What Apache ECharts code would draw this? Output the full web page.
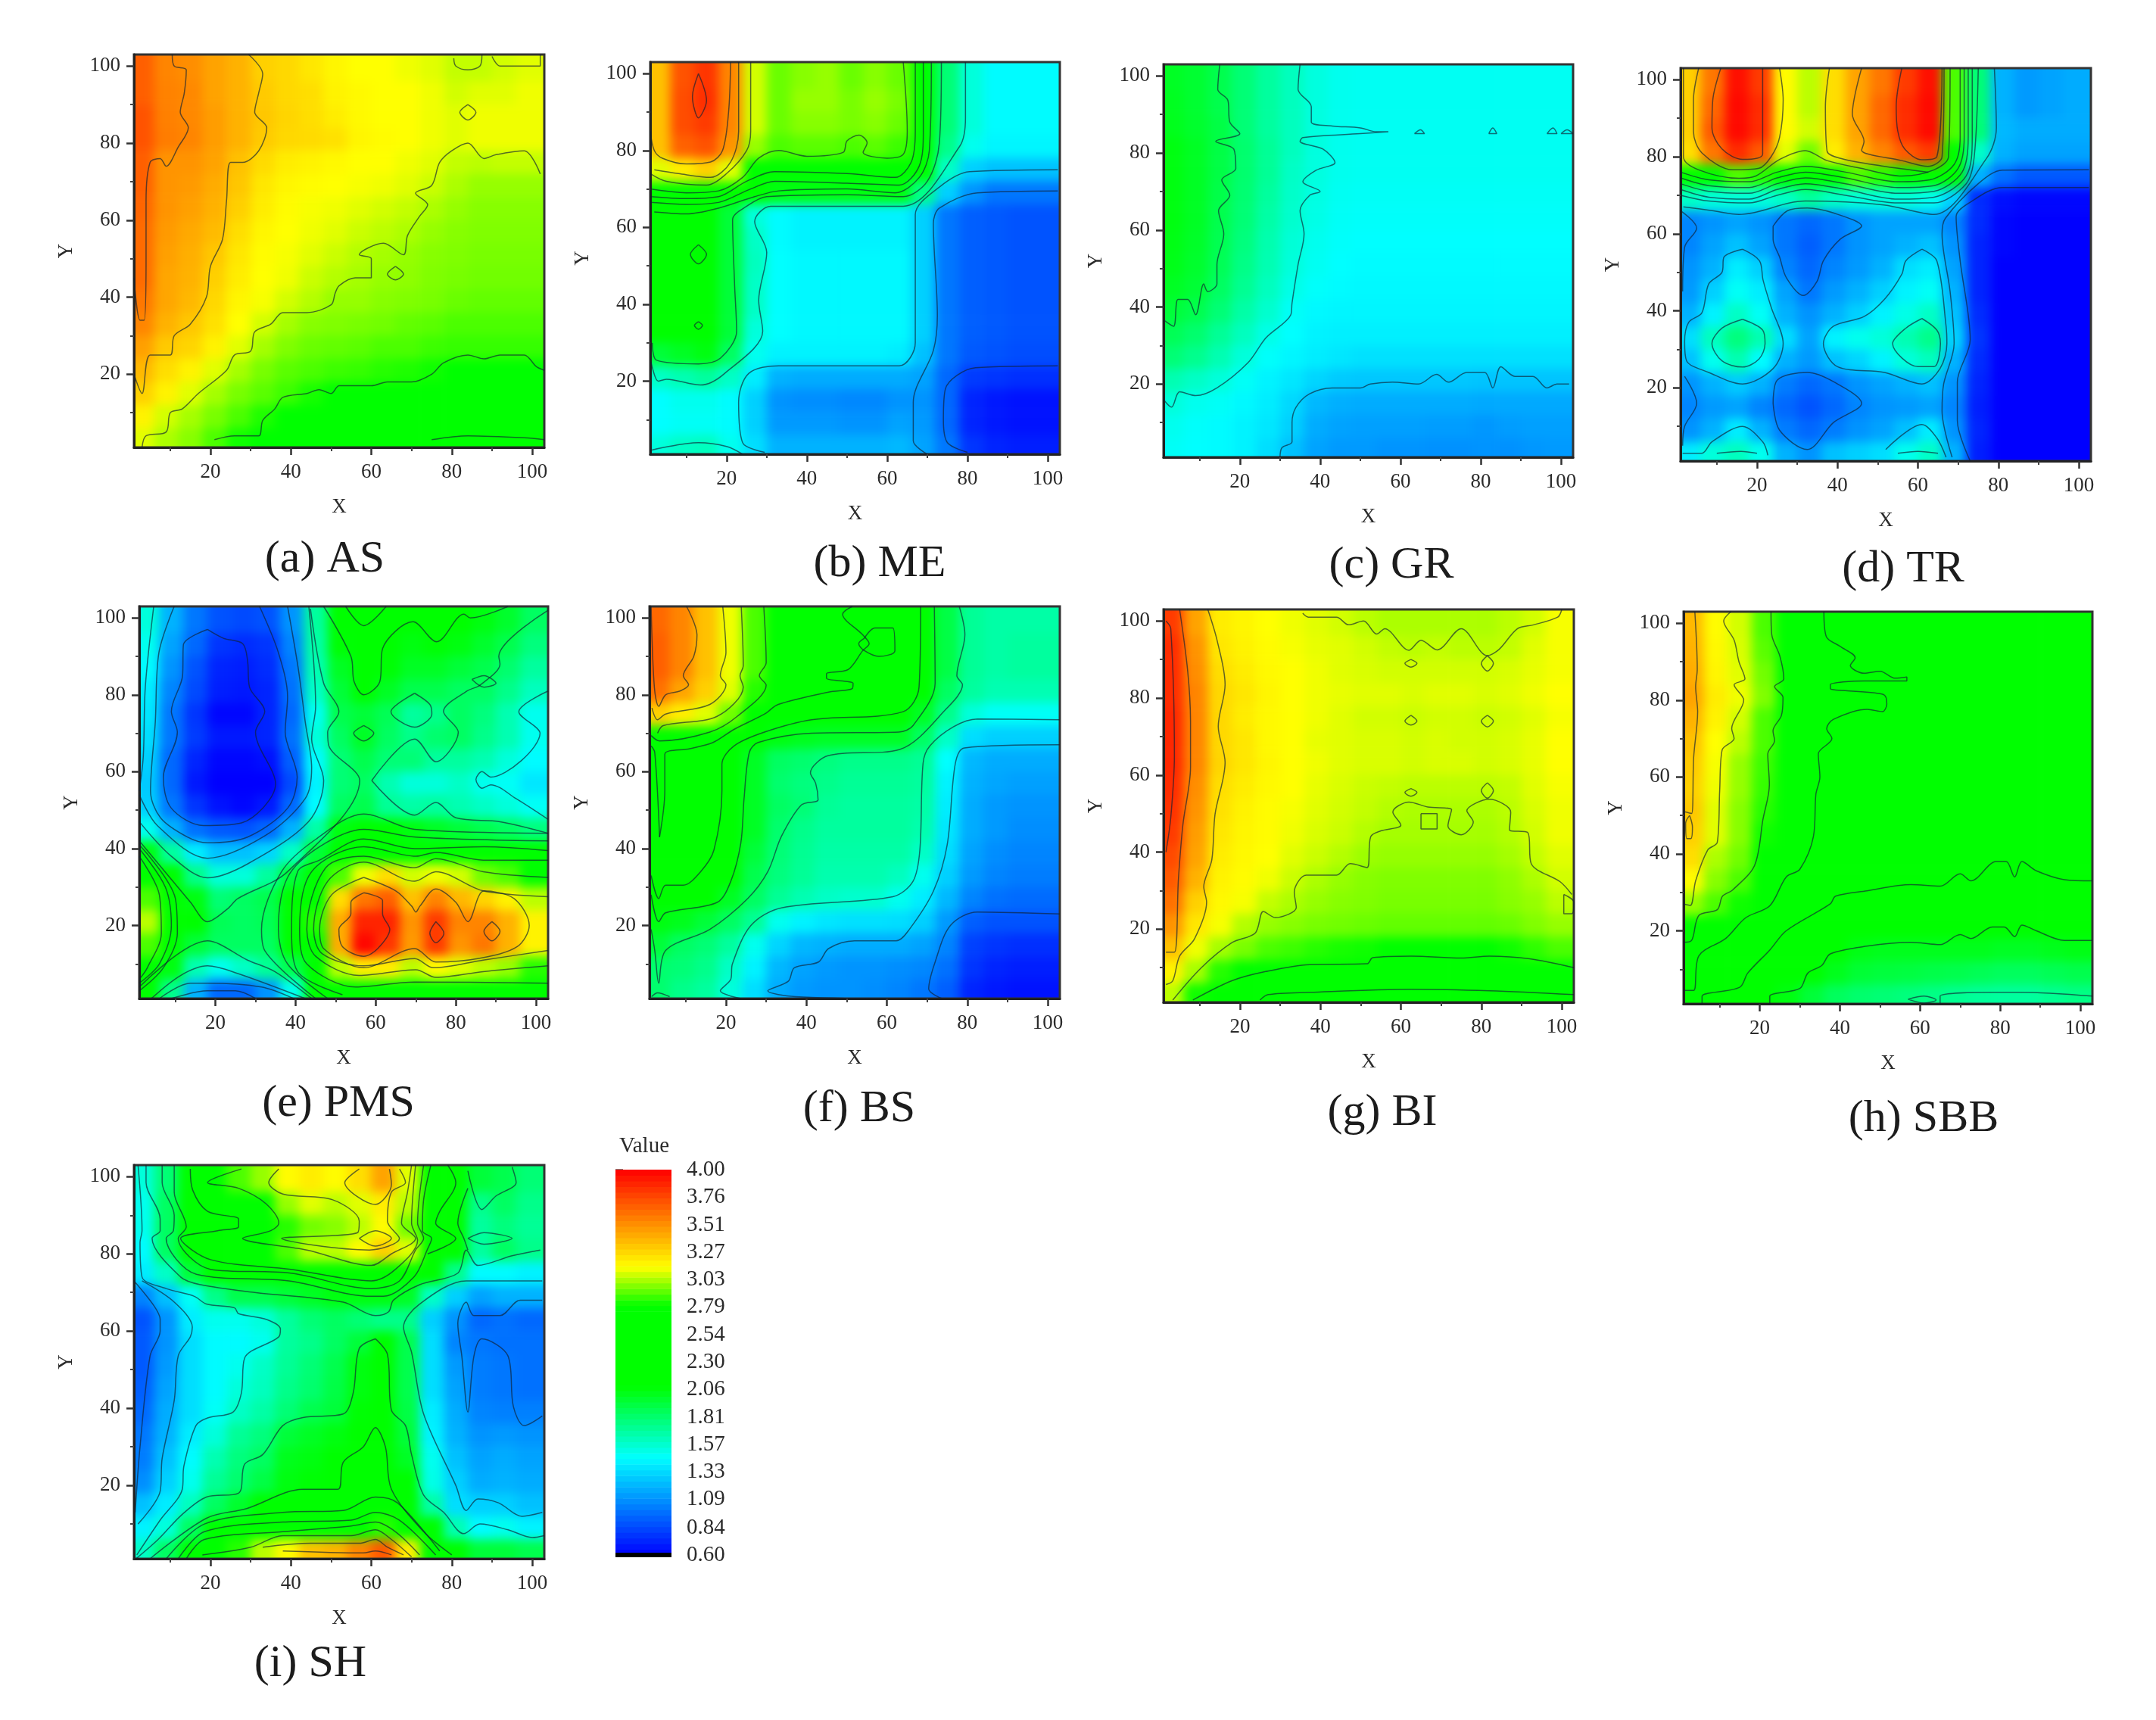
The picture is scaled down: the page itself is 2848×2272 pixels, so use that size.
<!DOCTYPE html>
<html><head><meta charset="utf-8">
<style>html,body{margin:0;padding:0;background:#fff}#c{width:2848px;height:2272px}</style>
<script src="https://cdn.jsdelivr.net/npm/echarts@6/dist/echarts.min.js"></script>
</head><body><div id="c"></div>
<script>
// cell centres shared by all panels (rows run top to bottom)
const gridXs=[3,9,15,21,27,33,39,45,51,57,63,69,75,81,87,93,99];
const gridYs=[99,93,87,81,75,69,63,57,51,45,39,33,27,21,15,9,3];
const majorTicks=[20,40,60,80,100];
const minorTicks=[10,30,50,70,90];
const legendTicks=[0.6,0.84,1.09,1.33,1.57,1.81,2.06,2.30,2.54,2.79,3.03,3.27,3.51,3.76,4.0];
const legendLevels=[0.625,0.675,0.725,0.775,0.825,0.875,0.925,0.975,1.025,1.075,1.125,1.175,1.225,1.275,1.325,1.375,1.425,1.475,1.525,1.575,1.625,1.675,1.725,1.775,1.825,1.875,1.925,1.975,2.025,2.075,2.125,2.175,2.225,2.275,2.325,2.375,2.425,2.475,2.525,2.575,2.625,2.675,2.725,2.775,2.825,2.875,2.925,2.975,3.025,3.075,3.125,3.175,3.225,3.275,3.325,3.375,3.425,3.475,3.525,3.575,3.625,3.675,3.725,3.775,3.825,3.875,3.925,3.975];
const colorStopValues=[0.6,1.46,2.09,2.8,3.14,4.0];
const colorStopRgb=[[0,0,255],[0,255,255],[0,255,0],[0,255,0],[255,255,0],[255,0,0]];
const captions=['(a) AS','(b) ME','(c) GR','(d) TR','(e) PMS','(f) BS','(g) BI','(h) SBB','(i) SH'];

const AS=[
[3.68,3.55,3.52,3.45,3.4,3.3,3.27,3.22,3.17,3.14,3.14,3.12,3.1,3.06,3.06,3.08,3.1],
[3.68,3.56,3.54,3.45,3.4,3.32,3.27,3.25,3.18,3.16,3.14,3.14,3.12,3.08,3.1,3.1,3.12],
[3.72,3.57,3.54,3.47,3.4,3.33,3.28,3.25,3.2,3.16,3.14,3.14,3.12,3.1,3.12,3.12,3.12],
[3.72,3.58,3.55,3.47,3.4,3.32,3.27,3.26,3.24,3.17,3.15,3.14,3.12,3.1,3.12,3.12,3.12],
[3.68,3.5,3.5,3.45,3.35,3.26,3.2,3.18,3.16,3.14,3.14,3.12,3.1,3.06,3.05,3.06,3.06],
[3.68,3.5,3.48,3.42,3.33,3.22,3.17,3.15,3.14,3.13,3.12,3.1,3.07,3.03,3.0,3.0,3.0],
[3.66,3.5,3.46,3.4,3.3,3.2,3.15,3.13,3.12,3.1,3.08,3.06,3.03,3.0,2.98,2.98,2.98],
[3.64,3.48,3.43,3.37,3.25,3.17,3.14,3.12,3.1,3.07,3.05,3.03,3.0,2.98,2.97,2.97,2.97],
[3.64,3.46,3.41,3.33,3.22,3.15,3.13,3.1,3.07,3.04,3.02,3.0,2.98,2.97,2.96,2.96,2.96],
[3.64,3.44,3.4,3.3,3.2,3.14,3.12,3.07,3.04,3.02,3.0,2.99,2.97,2.96,2.95,2.95,2.95],
[3.6,3.44,3.38,3.27,3.17,3.13,3.08,3.04,3.0,3.0,2.98,2.97,2.96,2.94,2.93,2.93,2.93],
[3.55,3.4,3.33,3.24,3.14,3.08,3.02,2.98,2.97,2.96,2.95,2.93,2.92,2.9,2.9,2.9,2.9],
[3.46,3.32,3.28,3.18,3.1,3.02,2.97,2.94,2.93,2.92,2.9,2.9,2.88,2.87,2.87,2.87,2.87],
[3.38,3.25,3.18,3.1,3.02,2.96,2.92,2.9,2.88,2.87,2.85,2.84,2.82,2.78,2.76,2.75,2.76],
[3.3,3.18,3.1,3.02,2.96,2.92,2.88,2.83,2.8,2.78,2.76,2.74,2.7,2.65,2.62,2.6,2.6],
[3.18,3.08,3.02,2.96,2.9,2.84,2.76,2.7,2.65,2.62,2.6,2.56,2.52,2.5,2.5,2.5,2.5],
[3.1,3.03,2.98,2.9,2.82,2.76,2.66,2.6,2.56,2.52,2.5,2.48,2.42,2.4,2.4,2.4,2.4]];
const ME=[
[3.35,3.72,3.82,3.55,3.08,2.94,2.98,3.0,2.94,2.98,2.94,2.3,1.8,1.55,1.45,1.45,1.45],
[3.35,3.74,3.84,3.55,3.08,2.94,3.0,3.0,2.96,3.0,2.96,2.3,1.8,1.55,1.45,1.45,1.45],
[3.35,3.74,3.8,3.55,3.08,2.94,2.98,2.98,2.96,2.98,2.94,2.3,1.8,1.55,1.45,1.45,1.45],
[3.35,3.67,3.72,3.5,3.0,2.9,2.92,2.92,2.9,2.92,2.88,2.25,1.75,1.5,1.43,1.43,1.43],
[3.1,3.2,3.3,3.1,2.65,2.6,2.5,2.5,2.5,2.5,2.5,2.15,1.6,1.3,1.25,1.25,1.25],
[2.3,2.25,2.25,2.2,2.1,2.05,2.05,2.05,2.05,2.05,2.05,1.75,1.3,1.1,1.0,1.0,1.0],
[2.12,2.15,2.15,1.95,1.55,1.45,1.42,1.42,1.42,1.42,1.42,1.3,1.0,0.92,0.9,0.88,0.88],
[2.12,2.15,2.18,1.95,1.6,1.45,1.42,1.42,1.42,1.42,1.42,1.3,1.0,0.92,0.9,0.88,0.88],
[2.12,2.15,2.2,1.95,1.62,1.46,1.44,1.44,1.44,1.44,1.44,1.3,1.0,0.92,0.9,0.88,0.88],
[2.12,2.15,2.15,1.95,1.6,1.46,1.44,1.44,1.44,1.44,1.44,1.3,1.0,0.92,0.9,0.88,0.88],
[2.12,2.15,2.15,1.95,1.6,1.46,1.44,1.44,1.44,1.44,1.44,1.3,1.0,0.92,0.9,0.88,0.88],
[2.1,2.13,2.15,1.95,1.55,1.46,1.44,1.44,1.44,1.44,1.44,1.3,1.0,0.92,0.9,0.88,0.88],
[1.95,2.0,2.05,1.85,1.5,1.42,1.42,1.42,1.42,1.42,1.4,1.25,1.0,0.9,0.88,0.86,0.86],
[1.6,1.65,1.7,1.6,1.4,1.2,1.18,1.18,1.18,1.18,1.18,1.15,0.95,0.8,0.78,0.76,0.76],
[1.46,1.5,1.5,1.45,1.3,1.1,1.08,1.08,1.06,1.06,1.1,1.1,0.95,0.72,0.68,0.66,0.66],
[1.46,1.48,1.48,1.45,1.3,1.12,1.12,1.12,1.1,1.1,1.15,1.12,0.95,0.72,0.68,0.66,0.66],
[1.55,1.6,1.62,1.5,1.35,1.2,1.2,1.2,1.2,1.2,1.22,1.15,1.0,0.78,0.72,0.7,0.7]];
const GR=[
[2.0,1.97,1.9,1.8,1.7,1.62,1.54,1.5,1.49,1.49,1.49,1.49,1.49,1.49,1.49,1.49,1.49],
[2.01,1.97,1.9,1.8,1.7,1.62,1.54,1.5,1.49,1.49,1.49,1.49,1.49,1.49,1.49,1.49,1.49],
[2.02,1.98,1.92,1.8,1.7,1.62,1.54,1.5,1.49,1.49,1.49,1.49,1.49,1.49,1.49,1.49,1.49],
[2.05,2.0,1.92,1.82,1.72,1.62,1.54,1.5,1.49,1.49,1.49,1.49,1.49,1.49,1.49,1.49,1.49],
[2.05,2.0,1.92,1.82,1.72,1.6,1.54,1.5,1.49,1.49,1.49,1.49,1.49,1.49,1.49,1.49,1.49],
[2.05,2.0,1.91,1.81,1.7,1.59,1.53,1.49,1.48,1.48,1.48,1.48,1.48,1.48,1.48,1.48,1.48],
[2.05,2.0,1.9,1.8,1.68,1.58,1.52,1.48,1.47,1.47,1.47,1.47,1.47,1.47,1.47,1.47,1.47],
[2.04,1.99,1.89,1.78,1.66,1.56,1.5,1.47,1.46,1.46,1.46,1.46,1.46,1.46,1.46,1.46,1.46],
[2.03,1.98,1.88,1.76,1.65,1.55,1.49,1.46,1.45,1.45,1.45,1.45,1.45,1.45,1.45,1.45,1.45],
[2.0,1.96,1.85,1.73,1.62,1.52,1.47,1.45,1.44,1.44,1.44,1.44,1.44,1.44,1.44,1.44,1.44],
[1.95,1.9,1.8,1.68,1.58,1.48,1.44,1.43,1.43,1.43,1.43,1.43,1.43,1.43,1.43,1.43,1.43],
[1.88,1.82,1.72,1.62,1.52,1.46,1.42,1.41,1.41,1.41,1.41,1.41,1.41,1.41,1.41,1.41,1.41],
[1.8,1.74,1.65,1.55,1.47,1.43,1.4,1.38,1.36,1.36,1.36,1.36,1.36,1.36,1.36,1.36,1.36],
[1.65,1.6,1.55,1.48,1.42,1.38,1.32,1.28,1.27,1.27,1.27,1.27,1.27,1.26,1.26,1.26,1.26],
[1.55,1.5,1.48,1.44,1.4,1.33,1.22,1.19,1.18,1.18,1.18,1.18,1.18,1.17,1.17,1.17,1.17],
[1.5,1.47,1.45,1.42,1.38,1.3,1.18,1.15,1.14,1.14,1.14,1.13,1.13,1.11,1.13,1.14,1.14],
[1.48,1.46,1.45,1.42,1.35,1.25,1.15,1.12,1.12,1.1,1.1,1.09,1.09,1.1,1.09,1.11,1.12]];
const TR=[
[3.3,3.6,3.95,3.8,3.15,3.05,3.25,3.45,3.6,3.8,3.95,2.9,1.8,1.2,1.12,1.15,1.18],
[3.3,3.65,3.97,3.85,3.15,3.05,3.25,3.45,3.65,3.85,3.97,2.9,1.8,1.2,1.12,1.15,1.18],
[3.3,3.7,3.97,3.85,3.15,3.08,3.25,3.45,3.65,3.85,3.97,2.9,1.8,1.22,1.18,1.18,1.18],
[3.25,3.6,3.85,3.7,3.1,2.95,3.2,3.4,3.55,3.7,3.8,2.8,1.6,1.2,1.15,1.15,1.15],
[2.6,2.8,2.9,2.85,2.6,2.6,2.7,2.9,2.85,2.8,2.7,2.2,1.2,0.98,0.9,0.9,0.9],
[1.6,1.55,1.55,1.55,1.6,1.7,1.6,1.55,1.55,1.55,1.5,1.3,0.75,0.65,0.62,0.62,0.62],
[1.05,1.1,1.15,1.1,1.0,0.95,1.0,1.1,1.15,1.15,1.15,1.05,0.75,0.62,0.6,0.6,0.6],
[1.05,1.15,1.25,1.15,1.0,0.92,1.0,1.1,1.15,1.2,1.25,1.1,0.72,0.62,0.6,0.6,0.6],
[1.1,1.2,1.4,1.3,1.05,0.95,1.05,1.12,1.2,1.35,1.4,1.15,0.72,0.6,0.6,0.6,0.6],
[1.12,1.3,1.48,1.4,1.15,1.0,1.12,1.2,1.3,1.42,1.48,1.2,0.72,0.6,0.6,0.6,0.6],
[1.2,1.42,1.6,1.48,1.2,1.1,1.2,1.3,1.42,1.52,1.6,1.25,0.75,0.6,0.6,0.6,0.6],
[1.35,1.62,1.78,1.65,1.35,1.15,1.42,1.5,1.55,1.65,1.75,1.3,0.78,0.6,0.6,0.6,0.6],
[1.25,1.5,1.65,1.45,1.2,1.12,1.25,1.32,1.42,1.55,1.62,1.2,0.75,0.6,0.6,0.6,0.6],
[1.1,1.2,1.28,1.2,1.02,0.95,1.0,1.1,1.15,1.2,1.25,1.1,0.72,0.6,0.6,0.6,0.6],
[1.05,1.12,1.15,1.05,0.95,0.88,0.95,1.05,1.1,1.12,1.15,1.05,0.7,0.6,0.6,0.6,0.6],
[1.1,1.2,1.4,1.2,1.02,0.95,1.02,1.1,1.15,1.25,1.4,1.1,0.72,0.6,0.6,0.6,0.6],
[1.4,1.55,1.62,1.5,1.2,1.1,1.25,1.3,1.35,1.5,1.6,1.2,0.7,0.6,0.6,0.6,0.6]];
const PMS=[
[1.55,1.2,1.0,0.88,0.85,0.88,1.1,1.7,2.1,2.25,2.2,2.1,2.1,2.1,2.05,1.98,1.85],
[1.5,1.15,0.95,0.78,0.75,0.78,1.05,1.68,2.08,2.22,2.12,2.05,2.08,2.05,1.98,1.9,1.78],
[1.45,1.1,0.88,0.72,0.7,0.75,1.0,1.65,2.0,2.2,2.08,2.0,2.0,1.95,1.9,1.82,1.7],
[1.4,1.05,0.85,0.7,0.68,0.72,0.98,1.6,1.95,2.15,2.0,1.9,1.9,1.85,1.85,1.75,1.62],
[1.38,1.0,0.78,0.62,0.62,0.72,0.95,1.5,1.9,1.95,1.88,1.7,1.75,1.85,1.78,1.65,1.5],
[1.35,1.0,0.8,0.68,0.68,0.72,0.98,1.55,1.85,2.0,1.85,1.75,1.82,1.85,1.75,1.65,1.5],
[1.3,0.95,0.72,0.62,0.62,0.65,0.92,1.45,1.8,1.9,1.8,1.8,1.7,1.7,1.65,1.55,1.45],
[1.28,0.95,0.68,0.6,0.6,0.6,0.85,1.42,1.8,1.85,1.65,1.55,1.55,1.6,1.5,1.48,1.38],
[1.3,1.0,0.78,0.66,0.62,0.68,0.95,1.45,1.85,1.9,1.72,1.68,1.7,1.65,1.6,1.55,1.48],
[1.5,1.2,0.98,0.9,0.88,0.95,1.2,1.68,2.05,2.15,2.12,2.05,2.0,1.95,1.9,1.85,1.78],
[2.05,1.7,1.4,1.25,1.25,1.32,1.6,1.95,2.4,2.7,2.7,2.55,2.55,2.5,2.45,2.4,2.3],
[2.6,2.1,1.75,1.55,1.55,1.7,1.95,2.3,2.9,3.12,3.25,3.08,3.12,3.08,2.95,2.9,2.75],
[2.9,2.3,2.05,1.8,1.85,1.9,2.2,2.7,3.25,3.6,3.68,3.35,3.55,3.38,3.28,3.18,3.05],
[3.05,2.5,2.1,1.88,1.85,1.88,2.2,2.85,3.42,3.88,3.88,3.5,3.8,3.55,3.55,3.4,3.18],
[2.9,2.3,1.95,1.85,1.85,1.85,2.15,2.8,3.42,3.98,3.82,3.48,3.8,3.5,3.6,3.4,3.18],
[2.4,2.05,1.65,1.5,1.6,1.72,1.9,2.4,3.05,3.2,3.2,3.05,3.15,3.1,3.05,3.0,2.85],
[2.1,1.75,1.2,0.95,0.95,1.1,1.5,2.1,2.5,2.55,2.55,2.55,2.55,2.55,2.5,2.45,2.4]];
const BS=[
[3.65,3.55,3.35,3.12,2.9,2.5,2.4,2.4,2.35,2.4,2.35,2.15,1.92,1.72,1.68,1.68,1.68],
[3.68,3.55,3.35,3.12,2.9,2.5,2.4,2.4,2.35,2.4,2.35,2.15,1.92,1.72,1.68,1.7,1.7],
[3.68,3.55,3.35,3.12,2.9,2.5,2.4,2.4,2.35,2.35,2.3,2.15,1.92,1.72,1.68,1.7,1.7],
[3.62,3.45,3.3,3.1,2.85,2.45,2.35,2.35,2.3,2.3,2.3,2.15,1.85,1.7,1.65,1.65,1.65],
[3.3,3.2,3.1,2.95,2.55,2.35,2.3,2.3,2.25,2.25,2.2,2.0,1.75,1.55,1.48,1.48,1.48],
[2.7,2.5,2.4,2.3,2.15,2.05,2.02,2.0,2.0,2.0,2.0,1.85,1.6,1.35,1.3,1.3,1.3],
[2.3,2.4,2.3,2.25,2.0,1.85,1.82,1.78,1.75,1.75,1.75,1.72,1.46,1.22,1.18,1.18,1.18],
[2.3,2.4,2.35,2.2,2.0,1.82,1.78,1.75,1.72,1.72,1.72,1.7,1.42,1.2,1.16,1.14,1.14],
[2.3,2.45,2.35,2.2,2.0,1.85,1.8,1.72,1.7,1.7,1.7,1.68,1.4,1.18,1.12,1.1,1.1],
[2.4,2.5,2.35,2.15,2.0,1.82,1.75,1.7,1.7,1.7,1.7,1.66,1.38,1.18,1.12,1.08,1.08],
[2.5,2.45,2.3,2.15,1.95,1.8,1.73,1.68,1.68,1.68,1.68,1.6,1.35,1.15,1.08,1.05,1.05],
[2.5,2.4,2.25,2.1,1.9,1.78,1.72,1.66,1.66,1.66,1.62,1.5,1.3,1.12,1.05,1.02,1.02],
[2.35,2.2,2.12,2.0,1.85,1.72,1.65,1.6,1.58,1.58,1.5,1.4,1.22,1.05,0.98,0.96,0.96],
[2.05,2.02,1.95,1.85,1.72,1.5,1.42,1.38,1.36,1.36,1.35,1.3,1.12,0.92,0.88,0.88,0.88],
[1.95,1.85,1.8,1.7,1.5,1.32,1.22,1.2,1.18,1.18,1.18,1.15,1.05,0.82,0.78,0.76,0.76],
[1.82,1.8,1.75,1.6,1.42,1.22,1.15,1.12,1.1,1.1,1.08,1.06,0.98,0.78,0.72,0.7,0.7],
[1.82,1.75,1.7,1.55,1.35,1.18,1.12,1.1,1.1,1.08,1.05,1.0,0.92,0.72,0.68,0.66,0.66]];
const BI=[
[3.8,3.45,3.2,3.17,3.14,3.12,3.1,3.08,3.05,3.03,3.03,3.03,3.03,3.03,3.05,3.08,3.13],
[3.85,3.5,3.22,3.18,3.15,3.13,3.11,3.1,3.08,3.06,3.05,3.06,3.05,3.05,3.06,3.1,3.13],
[3.85,3.52,3.25,3.2,3.16,3.14,3.12,3.1,3.09,3.08,3.08,3.08,3.08,3.08,3.09,3.11,3.13],
[3.85,3.55,3.27,3.22,3.17,3.14,3.12,3.11,3.1,3.1,3.09,3.1,3.1,3.09,3.1,3.12,3.14],
[3.87,3.55,3.27,3.2,3.16,3.14,3.12,3.1,3.08,3.08,3.07,3.08,3.08,3.07,3.08,3.1,3.13],
[3.87,3.55,3.27,3.22,3.16,3.14,3.11,3.1,3.09,3.09,3.08,3.09,3.08,3.08,3.09,3.11,3.14],
[3.87,3.55,3.28,3.22,3.17,3.14,3.12,3.1,3.09,3.09,3.08,3.09,3.09,3.08,3.09,3.11,3.14],
[3.85,3.52,3.25,3.2,3.16,3.14,3.11,3.09,3.07,3.06,3.05,3.05,3.05,3.05,3.06,3.1,3.13],
[3.83,3.5,3.24,3.18,3.15,3.13,3.1,3.08,3.06,3.04,3.03,3.03,3.03,3.03,3.05,3.09,3.12],
[3.8,3.47,3.22,3.17,3.15,3.12,3.09,3.07,3.04,3.02,3.02,3.02,3.02,3.02,3.04,3.08,3.12],
[3.75,3.45,3.2,3.16,3.14,3.1,3.07,3.04,3.01,3.0,3.0,3.0,3.0,3.0,3.02,3.06,3.1],
[3.7,3.4,3.18,3.15,3.12,3.07,3.03,3.0,2.98,2.97,2.97,2.97,2.97,2.97,2.99,3.03,3.08],
[3.62,3.3,3.16,3.13,3.06,3.03,3.0,2.98,2.97,2.96,2.96,2.96,2.96,2.96,2.98,3.0,3.05],
[3.5,3.22,3.13,3.04,3.0,2.98,2.96,2.95,2.94,2.93,2.93,2.93,2.93,2.93,2.94,2.97,3.0],
[3.35,3.12,3.02,2.96,2.9,2.88,2.85,2.83,2.82,2.8,2.8,2.8,2.8,2.8,2.82,2.86,2.9],
[3.18,3.02,2.85,2.72,2.6,2.5,2.42,2.4,2.38,2.38,2.38,2.38,2.38,2.38,2.4,2.48,2.62],
[3.05,2.82,2.5,2.4,2.35,2.3,2.3,2.3,2.3,2.3,2.3,2.3,2.3,2.3,2.3,2.32,2.4]];
const SBB=[
[3.38,3.15,3.08,2.9,2.7,2.6,2.55,2.5,2.5,2.5,2.5,2.5,2.5,2.5,2.5,2.5,2.5],
[3.4,3.16,3.09,2.92,2.72,2.6,2.55,2.5,2.5,2.5,2.5,2.5,2.5,2.5,2.5,2.5,2.5],
[3.42,3.17,3.1,2.95,2.72,2.6,2.55,2.5,2.5,2.5,2.5,2.5,2.5,2.5,2.5,2.5,2.5],
[3.45,3.2,3.12,2.97,2.75,2.6,2.55,2.5,2.5,2.5,2.5,2.5,2.5,2.5,2.5,2.5,2.5],
[3.4,3.18,3.08,2.9,2.7,2.55,2.5,2.5,2.5,2.5,2.5,2.5,2.5,2.5,2.5,2.5,2.5],
[3.35,3.14,3.05,2.9,2.65,2.5,2.5,2.5,2.5,2.5,2.5,2.5,2.5,2.5,2.5,2.5,2.5],
[3.32,3.13,3.0,2.88,2.6,2.5,2.5,2.5,2.5,2.5,2.5,2.5,2.5,2.5,2.5,2.5,2.5],
[3.3,3.12,3.0,2.87,2.58,2.5,2.5,2.5,2.5,2.5,2.5,2.5,2.5,2.5,2.5,2.5,2.5],
[3.33,3.1,2.98,2.85,2.55,2.5,2.5,2.5,2.5,2.5,2.5,2.5,2.5,2.5,2.5,2.5,2.5],
[3.3,3.1,2.98,2.82,2.5,2.5,2.5,2.5,2.5,2.5,2.5,2.5,2.5,2.5,2.5,2.5,2.5],
[3.25,3.03,2.95,2.8,2.45,2.45,2.45,2.45,2.45,2.45,2.45,2.45,2.45,2.45,2.45,2.45,2.45],
[3.15,2.98,2.9,2.75,2.4,2.4,2.4,2.4,2.4,2.4,2.4,2.4,2.4,2.4,2.4,2.4,2.4],
[3.0,2.9,2.82,2.6,2.35,2.3,2.3,2.3,2.3,2.3,2.3,2.3,2.3,2.3,2.3,2.3,2.3],
[2.8,2.55,2.5,2.35,2.3,2.25,2.25,2.2,2.2,2.2,2.2,2.2,2.2,2.15,2.15,2.15,2.15],
[2.45,2.3,2.3,2.25,2.2,2.2,2.12,2.04,2.02,2.02,2.02,2.02,2.02,2.0,2.0,2.02,2.04],
[2.35,2.25,2.22,2.2,2.15,2.12,2.02,1.96,1.94,1.93,1.91,1.9,1.88,1.86,1.86,1.88,1.9],
[2.25,2.2,2.15,2.12,2.05,1.95,1.86,1.82,1.8,1.78,1.76,1.73,1.71,1.7,1.7,1.73,1.76]];
const SH=[
[1.55,1.8,2.1,2.4,2.9,3.0,3.15,3.2,3.15,3.25,3.45,3.1,2.35,2.15,1.95,1.9,1.8],
[1.5,1.85,2.1,2.3,2.5,2.8,3.0,3.1,3.05,3.1,3.2,3.05,2.3,2.1,1.75,1.85,1.75],
[1.5,1.85,2.2,2.35,2.45,2.6,2.85,2.95,2.98,3.05,3.15,2.95,2.35,2.1,1.7,1.78,1.72],
[1.45,1.85,2.25,2.5,2.5,2.65,2.9,3.05,3.05,3.15,3.3,3.1,2.45,2.15,1.7,1.85,1.75],
[1.4,1.6,1.95,2.2,2.2,2.2,2.3,2.4,2.5,2.6,2.8,2.5,2.1,1.75,1.45,1.45,1.42],
[1.05,1.25,1.48,1.75,1.9,1.9,1.95,2.0,2.05,2.05,2.05,2.0,1.6,1.3,1.15,1.2,1.2],
[0.88,1.1,1.4,1.5,1.5,1.55,1.7,1.8,1.85,1.8,1.75,1.75,1.3,1.1,0.95,0.98,0.95],
[0.9,1.1,1.35,1.45,1.45,1.5,1.7,1.75,1.85,1.95,2.1,1.9,1.35,1.05,1.0,0.98,0.98],
[0.9,1.12,1.35,1.45,1.5,1.6,1.72,1.8,1.9,2.05,2.12,1.9,1.35,1.12,1.02,1.0,0.98],
[0.92,1.15,1.35,1.45,1.55,1.62,1.75,1.82,1.92,2.05,2.15,1.9,1.35,1.15,1.02,1.0,0.98],
[0.95,1.18,1.35,1.48,1.6,1.68,1.8,1.9,1.95,2.08,2.2,1.92,1.4,1.18,1.05,1.03,1.03],
[1.0,1.2,1.4,1.55,1.72,1.78,1.95,2.0,2.05,2.15,2.3,1.95,1.42,1.2,1.1,1.12,1.1],
[1.02,1.25,1.45,1.65,1.78,1.85,2.02,2.05,2.1,2.2,2.35,2.0,1.5,1.25,1.15,1.18,1.15],
[1.08,1.3,1.5,1.72,1.82,1.92,2.05,2.08,2.15,2.25,2.4,2.1,1.52,1.3,1.18,1.2,1.18],
[1.25,1.4,1.62,1.85,1.98,2.1,2.18,2.25,2.35,2.45,2.6,2.3,1.68,1.35,1.3,1.3,1.25],
[1.42,1.55,1.85,2.2,2.35,2.45,2.55,2.65,2.7,2.75,2.85,2.5,2.1,1.65,1.45,1.5,1.42],
[1.6,1.85,2.3,2.6,2.85,3.05,3.15,3.35,3.4,3.55,3.7,3.2,2.4,2.15,1.95,1.95,1.9]];

// contour lines, in axis units
const AS_lines=[
[[10.5,103],[11,100],[14,99],[13.5,93],[12.5,88],[14.5,84],[12,79],[9,74],[7.5,76],[5,75],[4,65],[4,50],[3.5,34],[2.5,34],[1,45]],
[[29.5,103],[33,98],[32,93],[31,88],[34,84],[32,78],[28,75],[25,75],[24,65],[23,55],[20,48],[19,40],[15,33],[11,30],[10,25],[5,25],[3,15],[1,20]],
[[3,1],[4,4],[9,5],[10,10],[13,11],[17,15],[24,21],[26,25],[30,26],[31,31],[35,33],[38,36],[44,36],[50,38],[51,41],[52,43],[56,45],[60,45],[60,50],[57,51],[63,54],[68,51],[69,56],[72,61],[74,64],[71,67],[75,69],[77,75],[80,78],[84,80],[88,76],[91,77],[98,78],[102,72]],
[[21,3],[26,4],[32,4],[33,8],[36,11],[38,14],[44,15],[47,16],[50,15],[52,17],[60,17],[64,18],[70,18],[75,20],[78,23],[84,25],[88,24],[92,25],[98,25],[101,22],[103,21]],
[[75,3],[84,4],[98,3.5],[103,3]],
[[80.5,102],[81,100],[84,99],[87,100],[87.5,103]],
[[84,90],[86,88],[84,86],[82,88],[84,90]],
[[66,48],[68,46],[66,44.5],[64,46],[66,48]],
[[90,102.5],[92,100],[102,100],[102,103]]];
const ME_lines=[
[[13,100],[11.5,94],[13,88.5],[15,93],[13,100]],
[[21,103],[20.5,90],[19,80],[16,77],[10,76.5],[4,78],[2,80],[1,85]],
[[23,103],[23,85],[21,77],[16,73],[8,74],[2,75]],
[[26,103],[26,85],[25,80],[20,74],[15,71],[5,72],[1,74]],
[[1,70],[10,69],[18,69.5],[24,73],[28,78],[33,80],[40,78.5],[49,79.5],[50,82.5],[53,84],[55,82],[54,79.5],[60,78],[64,79],[65,85],[64,103]],
[[1,68],[10,67.5],[18,68],[25,72],[32,74.5],[50,74],[62,73],[66,77],[67,85],[67,103]],
[[1,66.5],[10,66],[18,66.5],[26,70],[32,72],[50,71.5],[63,71],[68,76],[69,85],[69,103]],
[[2,64],[10,63.5],[18,65],[27,68],[33,69.5],[50,70],[62,69],[68,73],[70.5,80],[71,103]],
[[73.5,103],[73,82],[70,72],[64,68],[50,68.5],[30,68],[25,65.5],[21.5,62],[22,45],[22.5,33],[18.5,26],[13,24.5],[2.5,25.5],[1.5,30]],
[[79.5,103],[79.5,88.5],[78,81],[64,65.5],[31,65.5],[27,61.5],[30,53.5],[28,41],[29,33],[19.5,22],[13.5,19],[5,20.5],[3,20],[1.2,25]],
[[102.5,75],[80.5,74.5],[73,70.5],[67,63.3],[67,30],[63,24],[33,24],[25.5,22],[23,14.5],[24,4],[29.5,1.5]],
[[102.5,69.5],[82.5,69],[73,65],[71.5,61],[72.5,37],[71.5,28],[66.5,14.5],[66.5,4.5],[70,1]],
[[102.5,24],[82,23.5],[74.5,18],[74,10],[75,4],[80,1.5]],
[[1,2],[13,4],[20,3],[24,1]],
[[13,55.5],[15,53],[13,50.5],[11,53],[13,55.5]],
[[13,35.5],[14,34.5],[13,33.5],[12,34.5],[13,35.5]]];
const GR_lines=[
[[15,103],[14.5,96.5],[17,93.7],[17.5,88],[20,85],[14,83],[18.5,81],[19,76],[15.5,73],[17.5,69],[14.7,65],[16,59],[14.3,51],[14.3,46],[12,44],[11,46],[9,38],[7,42],[4.6,42],[3.5,35],[1.2,36.5]],
[[35,103],[34.5,96.5],[37.8,92],[37.8,88],[43,87],[50,86.5],[54,85.5],[57,85.5],[50,85],[35.7,84],[35,83],[40.7,81],[43.7,77.5],[39,75.5],[35.7,72.5],[40,70],[37.4,69],[35,65],[36,59],[34.5,51],[33,41],[32.7,38],[26.5,32],[22,25.5],[14.3,19],[9,17],[5,18],[3,14],[1,16]],
[[30,1],[30.5,3.5],[33,5],[33,10],[34,14],[37.4,17.5],[43,19],[50,19],[52.5,20],[58,20.5],[64.5,20],[69,22.5],[72,20.5],[76.5,23],[81,23],[83,19],[85,24.5],[88.5,22],[93,22],[96.5,19],[99,20],[102,20]],
[[63.5,85],[65,86],[66,85],[63.5,85]],
[[82,85],[83,86.5],[84,85],[82,85]],
[[96.5,85],[98,86.5],[99,85],[96.5,85]],
[[100,85],[101.5,86],[103,85],[100,85]]];
const TR_lines=[
[[11,103],[9,94.7],[8.8,87.5],[11.3,82],[16.4,79.3],[21.4,80.7],[21.4,103]],
[[5.5,103],[4.2,94.7],[4.2,86.6],[6.3,81],[14,76.6],[20.5,77],[23.5,80],[25.6,85],[26.5,94.7],[25.6,103]],
[[1.7,103],[1.7,80],[5.5,76.6],[15.5,74.4],[19.7,75],[25.6,79.3],[32,81.6],[37.4,79],[45.8,77],[56,75],[64,76.6],[67.6,80],[68,103]],
[[56,103],[54.6,93],[55,86.6],[56.7,82],[61,79.2],[64.7,80],[66,103]],
[[38,103],[37,93],[37.4,81.5],[41,79.5],[51,77.6],[62.6,76]],
[[46,103],[43.7,91],[46.6,84],[46,81.7],[56,79],[62.5,77.5],[66,80],[66.5,103]],
[[1,76],[8,74],[18,73.5],[25,76],[32,77.5],[42,76],[55,73.5],[63,74],[69,78],[70.5,85],[70.5,103]],
[[1,74.5],[8,72.5],[18,72],[25,74.5],[32,76],[42,74.5],[55,72],[64,72.5],[70,77],[71.5,85],[71.5,103]],
[[1,73],[8,71],[18,70.5],[25,73],[32,74.5],[42,73],[55,70.5],[64,71],[71,76],[72.5,85],[72.5,103]],
[[1,71.5],[8,69.5],[18,69],[25,71.5],[32,73],[42,71.5],[55,69],[64,69.5],[72,75],[73.5,85],[73.5,103]],
[[1,70],[8,68.5],[18,68],[25,70],[32,71.5],[42,70],[55,68],[64,68],[72,73],[74,80],[75,103]],
[[79,103],[79.5,87.5],[77,79.5],[64,65],[51.5,67.5],[32,68.5],[15.5,65],[8.8,66],[1.7,67]],
[[1,66],[5,61.5],[2,56.5],[1.5,45]],
[[24,62],[27.6,66],[32.5,66.7],[39,65.4],[46,62],[40.7,58.6],[36.5,53],[34.9,47.6],[31.5,44],[27.3,48.6],[25.6,54],[24,58.6],[24,62]],
[[24,16],[25,22],[32.5,24],[39,21.6],[46,16],[39,11],[32.5,4],[25.6,9],[24,16]],
[[16.4,56],[20.6,53],[21.5,48],[23.5,41],[26.5,31.5],[24,25],[16.4,21],[8,24],[2.5,27],[2,32],[3,37],[6.3,39.5],[8,47],[11.3,50],[11.8,54],[16.4,56]],
[[16.4,37.8],[21.4,35],[22,31.5],[20.5,27.5],[16.4,25.4],[11.3,27],[8.8,31.5],[11.3,35.5],[16.4,37.8]],
[[61,56],[64.7,53],[67,36],[67.2,31.5],[65.5,25],[61,21],[51.7,24],[40,25.5],[36.5,31.5],[39,36],[46.6,38.5],[51.7,43],[56,49.5],[57,53],[61,56]],
[[61,38],[64.7,35],[65.6,31.5],[64,25.5],[60,25.5],[53.7,31.5],[57,35.5],[61,38]],
[[1.5,3],[6.3,3],[8.8,6],[16.4,10],[21.4,6],[22.7,2.5]],
[[52,4],[61,10.5],[64.7,7],[67,2]],
[[102.5,76.6],[81,76.5],[75,73],[66.8,64],[66,60],[68,45],[69,31.5],[66.4,21],[66,14],[68.5,2]],
[[102.5,72],[81,72],[72.7,68],[69.5,64.5],[70.5,53],[73,32.5],[69.8,21.5],[69.8,11.5],[73,1]],
[[2,23],[5,16],[2,10],[1.5,5]],
[[10,3],[16,3.5],[20,3]],
[[55,3],[60,3.5],[65,3]]];
const PMS_lines=[
[[18,97],[12,93],[11.8,85],[9,75.7],[10.5,70.3],[7,58.6],[9,50.5],[17,46],[26.5,46.7],[35,56.8],[30,70.3],[32.3,75.7],[28.5,82],[28,89],[26.8,93.3],[22,94.7],[18,97]],
[[9.7,103],[5.9,91],[5,73],[3.8,55],[6.3,48],[13,43],[18,41.5],[28,43],[38,50.5],[40.4,58.6],[37.4,70.3],[38,79.4],[35.7,91],[31,103]],
[[4.6,103],[2.5,82],[2,64],[1,55]],
[[1,54],[5.5,46],[18,37.5],[32.3,43.3],[42.4,53],[44,61],[42.4,73],[40.7,86.6],[38,103]],
[[1,47],[9,38],[18,32.4],[28,36],[43.2,47],[47,57.7],[44,68.5],[45,77],[43.3,103]],
[[1,42],[13.8,26],[18,21],[23,24.3],[25.6,27],[38,34],[56,57.7],[48.3,66.7],[48,70.3],[50.8,75.6],[47,83],[43.7,102.4]],
[[47,103],[53.8,90],[54.6,83.4],[57,80],[61,83.4],[61.7,92],[69.3,99],[75.2,93.8],[82,101],[83.6,100],[93,103]],
[[52.5,103],[57,98],[62.6,103]],
[[59,57.7],[69.7,68.5],[75,62.6],[80.6,70.3],[76.9,75.7],[82.8,81],[86,82.5],[91,88],[90.7,90],[103,102]],
[[59,57.7],[69.7,48.7],[75,52],[80,48],[91,47],[103,44]],
[[103,47.6],[95,53],[88.7,56.6],[86.5,55.7],[85,58],[86.5,60],[88.7,58.6],[101,70],[95.7,75.6],[103,81]],
[[69.7,80.4],[73.5,77.5],[74,75],[69.7,71.6],[63.8,75.6],[69.7,80.4]],
[[57,72],[59.5,70],[57,68],[54.5,70],[57,72]],
[[84,84],[87,85],[90,83],[87,82],[84,84]],
[[1,38],[6,28],[6.5,18],[3,9],[1,6]],
[[1,40],[7.5,30],[9,20],[6,10],[1,5]],
[[1,41],[10,27],[10.5,18],[7,9],[1,3]],
[[1,4],[18,16],[28,11],[34.8,8],[44,1]],
[[4,1],[11.3,7],[18,9.5],[25.6,7.5],[42.4,1]],
[[6,1],[13.7,5],[18,5],[31.5,4],[39.5,1]],
[[9,1],[18,3],[25,3],[30,1]],
[[103,44],[69.7,45],[57,49],[45,42.4],[36.5,34],[31.5,19],[32.3,13.5],[45,1]],
[[103,42],[70,43],[57,45],[46,40.5],[38,32.5],[35.7,19],[38,10],[48,1]],
[[103,39.5],[87,40.5],[69.7,40],[57,42.5],[46,37],[40.5,34],[39,19],[40.5,8],[51.7,2]],
[[103,37],[86.8,37],[75,39],[70,38],[57,40.5],[44,34],[41,19],[42.8,10],[55,4],[69.7,5.3],[103,5]],
[[103,32.5],[86.8,34],[75,37.4],[69.7,35],[57,38],[47.5,35],[42.8,19],[45,12],[55.8,7],[70,8.5],[75,6.5],[86.8,8],[103,9.5]],
[[103,27.5],[86.8,29],[75,34],[69.7,31.5],[57,36.5],[48,31.5],[44.5,19],[46.6,12.7],[57,9.5],[69.7,11.4],[74.4,9],[86.8,11],[103,13.5]],
[[57,32.5],[65,29],[69,25],[70,23.5],[71,25],[75,29.5],[80,26],[83,21],[87,29],[94.5,27],[98.3,20],[95.3,14.5],[86,11.5],[75,10.5],[69.7,14],[57,9],[47,14],[46,19],[49,28],[57,32.5]],
[[57,28.5],[61.7,26.5],[61.7,23],[63.5,19],[60.5,14],[57,12],[51.7,14.5],[50.8,19],[53.8,23],[53.8,26],[57,28.5]],
[[75,21],[77,18],[75,15.5],[73.5,18],[75,21]],
[[89,21],[91,18.5],[89,16],[87,18.5],[89,21]]];
const BS_lines=[
[[10.2,103],[12.8,95.6],[12,90],[9.4,85],[10.7,82.6],[8.6,81],[5,80],[3.3,77],[2.2,82],[1.4,103]],
[[19.2,103],[20,91],[18.6,85],[20,82.6],[16,77.5],[5,75],[3,73.5],[1.6,76.6]],
[[23.8,103],[24.3,87.5],[23.5,85],[24.3,82],[17.8,74.4],[4.4,72],[3,70]],
[[29.4,103],[30,88.4],[28.3,85],[30,82.5],[22.8,74.4],[16,70.3],[3.5,68],[1.4,69.4]],
[[3.5,43],[4.8,55],[4.8,64.5],[11,66],[16.8,67.6],[22,71],[29.6,75],[33,77.5],[45.5,80.7],[51.4,81.6],[51.6,83],[45,84.3],[45,85.5],[50.4,86.6],[54,91.5],[55.6,93.3],[54,95.6],[49,101],[51.4,103]],
[[3.5,43],[2.3,65],[1.4,66.7]],
[[54.4,94.7],[57,97.4],[61.5,97.4],[62,91.5],[58,90],[54.4,91.5],[53,93.3],[54.4,94.7]],
[[68.4,103],[68,82],[64,75.6],[41.3,73.5],[29.6,70.3],[22,66.7],[19,62],[19,55],[17,39.6],[13.7,34],[9.4,30.5],[5,30.5],[3.3,27],[1.4,33]],
[[71.8,103],[72,83],[66.5,72],[63,70.3],[41.3,70],[28,67.6],[25.8,65],[24.5,53],[23.7,41.5],[21.2,31.5],[17.8,26],[5,23.3],[3.3,21],[1.4,28]],
[[78,103],[79.4,95.6],[77.4,85],[78.8,82.6],[75,76.6],[63.2,65.8],[45.5,64.2],[41,59.7],[42.3,57],[42.9,52.7],[38.8,51.4],[33.8,43.2],[30.4,34],[25.4,27],[16,19],[5,13.5],[3.3,5],[2.3,13.5],[1.4,19]],
[[103,73.5],[82.5,73.7],[76.6,71.7],[70.7,66.7],[69,62.2],[68.2,39.6],[66.5,31.5],[61.5,27.5],[33.8,24.6],[26.2,20],[21.6,10],[21.2,6],[18.6,3],[23.7,1]],
[[103,67],[79.3,66.2],[77,62],[75,41],[71.6,29],[65.6,19],[62.3,16],[52,16],[45.5,14],[43,10.5],[37,9],[35.5,5.5],[30.4,3],[37.3,1.5],[60,1]],
[[103,23],[82.5,23.5],[75.8,20],[72,10.5],[70.4,3.5],[73.7,1]],
[[1.5,1.5],[3,2.5],[6,1.5]]];
const BI_lines=[
[[1.6,100],[2.8,98],[3.7,65],[2.8,49],[1.6,40]],
[[5,103],[7,87],[7.7,74],[7.7,62],[5.8,47],[4.7,33],[3.7,14],[1.6,14]],
[[12,103],[14.3,95],[16.3,83.5],[14.6,72.6],[16.3,63.3],[13.8,49.8],[13,38],[11,31],[11.7,27],[8.7,17.5],[5,13],[3.3,6.6],[1.6,5.6]],
[[3.3,1.6],[10.4,10],[18,16.5],[23.8,19],[25.8,24.6],[28.8,23],[34,25.6],[33.5,29.6],[36.5,34],[44,34],[47.4,37],[51.6,36],[52.5,44],[55,45.5],[60,47],[58,50.4],[62,53],[66.7,51.7],[72.6,51],[71.7,46.8],[75,44.5],[78,47.8],[76.4,50.7],[82,53.7],[87.3,50.4],[87,45.8],[91.6,45],[92.4,37],[99.6,32.3],[102.5,29]],
[[35.6,102],[37,101],[44,101],[47,99],[50.7,100],[54,96.6],[56,98],[62,92.4],[65,95],[69,92.5],[75,98],[81.5,91],[84.4,92.6],[89,98],[93,99],[99,101],[100,103]],
[[8.3,1.6],[18,6.6],[26.4,9],[37.3,10.8],[51.6,11],[53,12.6],[62.6,13],[75,12.5],[82,13],[92,12.3],[103,10]],
[[25,1.6],[27,3],[37.3,3.6],[62.6,4.4],[82,4],[103,3]],
[[62.5,90],[64,89],[62.5,88],[61,89],[62.5,90]],
[[81.5,91],[83,89],[81.5,87],[80,89],[81.5,91]],
[[62.5,75.5],[64,74],[62.5,73],[61,74],[62.5,75.5]],
[[81.5,75.5],[83,74],[81.5,72.5],[80,74],[81.5,75.5]],
[[62.5,56.5],[64,55.5],[62.5,54.5],[61,55.5],[62.5,56.5]],
[[81.5,58],[83,56],[81.5,54],[80,56],[81.5,58]],
[[65,50],[69,50],[69,46],[65,46],[65,50]],
[[100.5,29],[103,27],[102.5,24],[100.5,24],[100.5,29]]];
const SBB_lines=[
[[3.8,103],[4.4,88],[4,83.5],[4.5,77],[3.5,65],[3,50.5],[1,51]],
[[2.5,50],[3.2,47],[2.8,44],[1.8,44],[1.5,48],[2.5,50]],
[[12.8,103],[11,100.6],[13.6,95.6],[14.8,90],[16.3,85.5],[13.6,84],[16,80],[13,72.6],[13.6,70],[10.6,67],[10,56.5],[9.4,43],[7,41],[4,33],[2.7,26.6],[1,27]],
[[22.8,103],[23,97],[25,91.5],[26,85.5],[23.7,83.5],[25.8,80.7],[25.4,76],[23.3,72],[23.7,69.5],[22,66],[22.4,58],[20.8,49],[18.7,37],[13.2,30.6],[10.7,29],[9.4,25.5],[4.8,24],[3,17.5],[1,17]],
[[36,103],[36.6,96.5],[40,94],[43.8,91],[42.6,89],[46,87],[50,87.5],[53.8,85.7],[56.7,86],[56.7,85],[46,85],[37.6,84],[37.6,83],[50.8,81.5],[51.7,79],[50.6,77],[46.8,77.6],[38.4,75],[36.7,72.6],[38,70],[34.6,66],[35,60],[34,55.5],[33.4,44.6],[30,36],[26.6,34],[22.5,26.5],[16.5,23.4],[11.5,18],[4.8,13.5],[3.5,4.5],[1,4.5]],
[[5.6,1],[5.6,3],[15,5.3],[17,9],[22.5,15],[26.6,20],[37.6,27],[38.9,29],[46.7,30.4],[57.7,32],[65,31.6],[70,34.8],[72.7,33],[79,38],[81.5,38],[83.6,34],[85.4,38],[89,35.6],[96,33.3],[103,33]],
[[22.5,1],[22.5,3],[30,5],[32,9],[35.5,11],[37.6,14],[46.7,16],[57.7,17],[65,16.4],[70,19],[72.7,18],[78,21],[81,21],[83.6,18.5],[85.4,21.5],[89,20],[96,17.5],[103,17.5]],
[[65,1],[65,3],[78,4],[85,4],[103,3]],
[[57,2.2],[61,3],[64,2],[61,1.2],[57,2.2]]];
const SH_lines=[
[[2,103],[3,86],[2.5,83],[3,74],[9,71],[16,69],[19,67],[26,66],[27,64.5],[34,63],[37.4,60.5],[37,58.5],[28.5,53],[27.7,44],[25.6,39],[19.3,37.5],[16.4,35.5],[13.4,25],[13,19],[7.5,11],[1.7,2]],
[[1,73],[6,66.5],[7.5,63],[7.5,60],[5,53.6],[2.5,30],[1.3,13]],
[[3,73],[11,67.5],[15.5,61],[15,58.5],[12,53.6],[11,42],[8,27],[7.5,18.5],[2,10]],
[[4,103],[4,98.5],[7.5,89],[7.5,86],[5.5,84],[12.6,74],[17.6,72],[31,70],[53,67.5],[61,64],[64.3,65],[65.5,68],[72,72],[81.5,75],[83.6,81],[86.5,77],[95,79.5],[102,81]],
[[8,103],[8,98.5],[11,90],[10.8,86],[9,84],[16.5,74.7],[39.5,73],[60,69],[63,69],[70.6,74],[74,81.3],[75,84],[72.7,86],[73,94],[74.8,103]],
[[11,103],[11,96],[14,87],[12,84],[20,76],[40,75],[60,71],[67,73],[71,81],[73,84],[71.5,88],[73,103]],
[[15,102],[15.6,96.5],[19.3,91],[27,89],[27,87],[21.8,86],[12.6,84],[20,78.5],[40,76],[60,73],[66,76],[71.5,83.5],[70,88],[71,103]],
[[27.7,102],[19.3,98.5],[27,97],[33.8,93],[37,88],[35,86],[28,84],[44,81],[60,77],[65,80],[71,84],[67.5,88],[69,96],[70,103]],
[[37,102],[34.5,98.5],[38,95.5],[50.4,94],[57,88.5],[56.6,85.5],[37.7,84],[59.5,81],[67,84],[64,88.5],[65,96],[68.5,98.5],[67,102]],
[[57,102],[53.4,98.5],[61,92.8],[65,98],[64.5,102]],
[[57,84],[61,86],[65,84],[61,82],[57,84]],
[[79,103],[81,98.5],[77,91],[76,88],[81,84],[74,80]],
[[84,101.5],[87.5,91.5],[91,95],[96,98.5],[95,102.5]],
[[84,97],[81.5,88],[83,84],[84,81]],
[[84,84],[88,85.5],[95,84],[88,82.5],[84,84]],
[[61,58],[57,55.5],[55.5,44],[53,38.5],[43,37.6],[38,35.5],[33,28],[28.5,25.5],[27,18],[19,17],[13,12.5],[7,6],[1.5,1]],
[[61,58],[64,54],[65,39.5],[68.5,35.5],[70,28],[73,17.5],[78,13],[83,7.5],[87,10],[94,8.5],[100,6.5],[103,7]],
[[5,1],[19,11.5],[29,14],[43,19],[51.7,19],[53,26],[58,30],[61,35],[63.5,30],[65,19],[73,8],[80,2]],
[[9,1],[18.5,10],[38,13],[53,13.5],[61,17],[66.5,15.5],[77,3]],
[[12,1],[18.5,8],[38,10.5],[55,11],[61,13],[67,11],[76,2]],
[[14,1],[18.5,6],[38,8],[55,9.5],[61,10.5],[66,8],[72,2]],
[[18,2],[30,4],[38,7],[55,7],[61,8.5],[65,6],[70,1.5]],
[[33,4],[45,5],[57,5],[61,6],[64,4],[68,2]],
[[38,3],[58,2.5],[61,3],[65,2]],
[[102.5,73],[83.6,73],[72,67],[68,61],[70,54.5],[73,38.5],[81,20],[83.6,13.5],[86.5,16.5],[91.6,15.5],[97.5,12],[102.5,13]],
[[102.5,68],[97,68],[92,64],[85.5,64],[83.6,67.5],[81.5,62],[82.5,53.5],[84,39],[85.5,53.5],[87.5,58],[94,53.5],[95.3,40.5],[98,35.5],[102.5,38]]];

const panelValues=[AS,ME,GR,TR,PMS,BS,BI,SBB,SH];
const panelLines=[AS_lines,ME_lines,GR_lines,TR_lines,PMS_lines,BS_lines,BI_lines,SBB_lines,SH_lines];

// layout (pixels): left, top, right, bottom of each plot; caption centre
const boxes=[[177,72,719,591],[859,82,1400,600],[1537,85,2078,604],[2220,90,2762,609],[184,801,724,1319],[858,801,1400,1319],[1537,805,2079,1324],[2224,808,2764,1326],[177,1539,719,2059]];
const captionPos=[[429,739],[1162,745],[1838,747],[2514,752],[447,1458],[1135,1465],[1826,1470],[2541,1478],[410,2198]];
const FONT='"Liberation Serif","Times New Roman",serif';
const INK='#2b2b2b';
const BLUR=7, BLEED=34;

function colorOf(v){
  const s=colorStopValues,c=colorStopRgb;
  if(v<=s[0])return `rgb(${c[0]})`;
  for(let i=1;i<s.length;i++){
    if(v<=s[i]){
      const t=(v-s[i-1])/(s[i]-s[i-1]);
      return 'rgb('+c[i].map((k,j)=>Math.round(c[i-1][j]+(k-c[i-1][j])*t)).join(',')+')';
    }
  }
  return `rgb(${c[c.length-1]})`;
}

// smooth colour field: the cell layer is softened and cut to the plot rectangles
const st=document.createElement('style');
st.textContent='canvas[data-zr-dom-id="zr_0"]{filter:blur('+BLUR+'px);clip-path:path("'+
  boxes.map(b=>`M${b[0]} ${b[1]}H${b[2]}V${b[3]}H${b[0]}Z`).join(' ')+'");}';
document.head.appendChild(st);

const HALF_X=(gridXs[1]-gridXs[0])/2, HALF_Y=(gridYs[0]-gridYs[1])/2;
function renderCell(params,api){
  const x=api.value(0),y=api.value(1),v=api.value(2);
  const a=api.coord([x-HALF_X,y+HALF_Y]),b=api.coord([x+HALF_X,y-HALF_Y]);
  let l=a[0],t=a[1],r=b[0],bt=b[1];
  if(x===gridXs[0])l-=BLEED;
  if(x===gridXs[gridXs.length-1])r+=BLEED;
  if(y===gridYs[0])t-=BLEED;
  if(y===gridYs[gridYs.length-1])bt+=BLEED;
  return {type:'rect',shape:{x:l,y:t,width:r-l+0.6,height:bt-t+0.6},style:{fill:colorOf(v)}};
}

const grid=[],xAxis=[],yAxis=[],series=[],title=[];
const labelStyle={color:INK,fontFamily:FONT,fontSize:27};
boxes.forEach((b,i)=>{
  grid.push({left:b[0],top:b[1],width:b[2]-b[0],height:b[3]-b[1],show:true,backgroundColor:'transparent',borderColor:'#333',borderWidth:3,zlevel:1});
  const common={type:'value',min:1,max:103,gridIndex:i,zlevel:1,scale:true,splitLine:{show:false},axisLine:{show:true,onZero:false,lineStyle:{color:'#222',width:3}}};
  xAxis.push({...common,position:'bottom',name:'X',nameLocation:'middle',nameGap:65,nameTextStyle:{...labelStyle},
    axisTick:{show:true,length:10,customValues:majorTicks,lineStyle:{color:'#333',width:2.5}},
    axisLabel:{show:true,margin:19,customValues:majorTicks,...labelStyle,showMinLabel:true,showMaxLabel:true,hideOverlap:false}});
  yAxis.push({...common,position:'left',name:'Y',nameLocation:'middle',nameGap:76,nameTextStyle:{...labelStyle},
    axisTick:{show:true,length:10,customValues:majorTicks,lineStyle:{color:'#333',width:2.5}},
    axisLabel:{show:true,margin:18,customValues:majorTicks,...labelStyle,showMinLabel:true,showMaxLabel:true,hideOverlap:false}});
});
// minor ticks
boxes.forEach((b,i)=>{
  const common={type:'value',min:1,max:103,gridIndex:i,zlevel:1,splitLine:{show:false},axisLine:{show:false},axisLabel:{show:false},
    axisTick:{show:true,length:5,customValues:minorTicks,lineStyle:{color:'#444',width:2}}};
  xAxis.push({...common,position:'bottom'});
  yAxis.push({...common,position:'left'});
});
panelValues.forEach((rows,i)=>{
  const data=[];
  rows.forEach((row,r)=>row.forEach((v,c)=>data.push([gridXs[c],gridYs[r],v])));
  series.push({type:'custom',xAxisIndex:i,yAxisIndex:i,zlevel:0,silent:true,animation:false,clip:false,renderItem:renderCell,encode:{x:0,y:1},data});
  panelLines[i].forEach(line=>series.push({type:'line',xAxisIndex:i,yAxisIndex:i,zlevel:1,z:5,silent:true,animation:false,showSymbol:false,symbol:'none',smooth:0.32,clip:true,connectNulls:false,
    lineStyle:{color:'#123',width:1.5,opacity:0.66},data:line}));
  title.push({text:captions[i],left:captionPos[i][0],top:captionPos[i][1],textAlign:'center',textVerticalAlign:'middle',zlevel:1,padding:0,
    textStyle:{fontFamily:FONT,fontSize:60,fontWeight:'normal',color:'#1c1c1c'}});
});
// colour bar
const barIdx=grid.length;
grid.push({left:813,top:1545,width:74,height:509,show:false,zlevel:1});
xAxis.push({type:'value',gridIndex:barIdx,min:0,max:1,show:false,zlevel:1});
yAxis.push({type:'value',gridIndex:barIdx,min:0.6,max:4,position:'right',zlevel:1,splitLine:{show:false},
  axisLine:{show:false},
  axisTick:{show:true,length:10,customValues:legendTicks,lineStyle:{color:'#555',width:2.5}},
  axisLabel:{show:true,margin:20,customValues:legendTicks,color:INK,fontFamily:FONT,fontSize:29,formatter:v=>Number(v).toFixed(2),showMinLabel:true,showMaxLabel:true,hideOverlap:false}});
series.push({type:'custom',xAxisIndex:xAxis.length-1,yAxisIndex:yAxis.length-1,zlevel:1,silent:true,animation:false,clip:false,encode:{x:0,y:1},
  renderItem:(p,api)=>{
    const v=api.value(1);
    const a=api.coord([0,v+0.025]),b=api.coord([1,v-0.025]);
    return {type:'rect',shape:{x:a[0],y:a[1],width:b[0]-a[0],height:b[1]-a[1]+0.6},style:{fill:colorOf(v)}};
  },
  data:legendLevels.map(v=>[0.5,v])});
series.push({type:'line',xAxisIndex:xAxis.length-1,yAxisIndex:yAxis.length-1,zlevel:1,z:6,silent:true,animation:false,symbol:'none',clip:false,
  lineStyle:{color:'#000',width:6},data:[[0,0.6],[1,0.6]]});
title.push({text:'Value',left:851,top:1514,textAlign:'center',textVerticalAlign:'middle',zlevel:1,padding:0,textStyle:{fontFamily:FONT,fontSize:29,fontWeight:'normal',color:INK}});

const chart=echarts.init(document.getElementById('c'),null,{renderer:'canvas',width:2848,height:2272});
chart.setOption({animation:false,backgroundColor:'transparent',tooltip:{show:false},title,grid,xAxis,yAxis,series});
</script></body></html>
